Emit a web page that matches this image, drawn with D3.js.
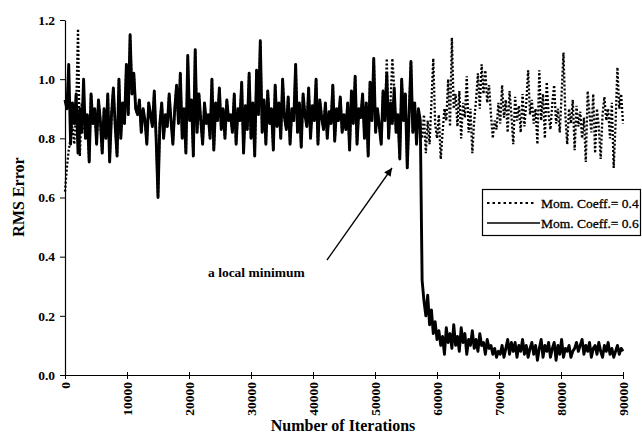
<!DOCTYPE html>
<html>
<head>
<meta charset="utf-8">
<script src="https://cdn.jsdelivr.net/npm/d3@7"></script>
<style>
html,body{margin:0;padding:0;background:#fff;}
svg{display:block;}
text{font-family:"Liberation Serif","Times New Roman",serif;fill:#000;}
</style>
</head>
<body>
<svg id="chart" width="642" height="434"></svg>
<script>
// ---- data ----
const iterStep = 300; // sampling interval of both series (iterations)
const xTickValues = [0,10000,20000,30000,40000,50000,60000,70000,80000,90000];
const yTickValues = [0.0,0.2,0.4,0.6,0.8,1.0,1.2];
const seriesNames = ["Mom. Coeff.= 0.4","Mom. Coeff.= 0.6"];
const annotationText = "a local minimum";
const xTitle = "Number of Iterations";
const yTitle = "RMS Error";

// Mom. Coeff. = 0.6 (solid)
const solidVals = [
 0.93,0.90,1.05,0.78,0.92,0.85,0.95,0.75,0.90,0.82,
 1.00,0.80,0.88,0.72,0.95,0.85,0.90,0.78,0.93,0.86,
 0.75,0.90,0.80,0.95,0.72,0.88,0.97,0.84,0.74,1.00,
 0.80,0.92,0.85,1.05,0.88,1.15,0.95,1.02,0.90,0.88,
 0.93,0.82,0.90,0.86,0.78,0.92,0.88,0.84,0.96,0.80,
 0.60,0.85,0.92,0.80,0.88,0.84,0.95,0.86,0.78,0.90,
 0.98,0.85,1.02,0.80,0.90,0.75,1.08,0.86,0.93,0.74,
 1.10,0.82,0.95,0.86,0.78,0.92,0.85,0.88,0.80,1.00,
 0.76,0.92,0.86,0.97,0.83,0.90,0.80,0.93,0.86,0.88,
 0.82,0.95,0.78,0.90,0.86,0.99,0.75,0.91,0.83,1.02,
 0.80,0.92,0.74,1.03,0.88,1.13,0.82,0.93,0.78,0.96,
 0.85,0.90,0.76,0.98,0.84,0.92,0.80,1.00,0.87,0.83,
 0.94,0.78,0.90,0.86,1.05,0.82,0.92,0.77,0.95,0.88,
 0.84,0.97,0.80,0.91,0.86,1.00,0.78,0.93,0.87,0.83,
 0.92,0.80,0.89,0.85,0.98,0.79,0.90,0.86,0.94,0.82,
 0.88,0.83,0.92,0.76,0.96,0.85,1.01,0.78,0.90,0.87,
 0.95,0.80,0.92,0.74,0.99,0.86,1.07,0.82,0.90,0.84,
 0.78,0.96,0.86,1.02,0.80,0.92,0.85,0.97,0.82,0.88,
 0.73,1.00,0.86,0.95,0.70,0.88,1.06,0.82,0.92,0.78,
 0.90,0.86,
 0.32,0.25,0.20,0.27,0.17,0.22,0.14,0.18,0.12,
 0.15,0.10,0.13,0.07,0.16,0.11,0.14,0.09,0.17,0.10,
 0.13,0.08,0.16,0.11,0.14,0.07,0.12,0.10,0.15,0.09,
 0.12,0.08,0.14,0.10,0.11,0.07,0.12,0.09,0.10,0.07,
 0.09,0.06,0.08,0.07,0.10,0.06,0.09,0.12,0.07,0.11,
 0.08,0.11,0.06,0.10,0.08,0.12,0.07,0.10,0.06,0.09,
 0.11,0.07,0.10,0.05,0.09,0.12,0.06,0.10,0.08,0.11,
 0.06,0.09,0.11,0.05,0.10,0.07,0.12,0.06,0.09,0.08,
 0.10,0.06,0.08,0.09,0.11,0.08,0.10,0.12,0.07,0.10,
 0.08,0.11,0.06,0.09,0.10,0.07,0.11,0.08,0.06,0.10,
 0.08,0.11,0.07,0.09,0.06,0.08,0.10,0.07,0.09,0.08
];

// Mom. Coeff. = 0.4 (dotted) — mostly lies under the solid curve before 57000
const dottedVals = [
 0.62,0.70,0.76,0.80,0.84,0.78,0.90,1.17,0.74,0.92,
 0.85,0.80,0.88,0.72,0.95,0.85,0.90,0.78,0.93,0.86,
 0.75,0.90,0.80,0.95,0.72,0.88,0.97,0.84,0.74,1.00,
 0.80,0.92,0.85,1.05,0.88,1.15,0.95,1.02,0.90,0.88,
 0.93,0.82,0.90,0.86,0.78,0.92,0.88,0.84,0.96,0.80,
 0.60,0.85,0.92,0.80,0.88,0.84,0.95,0.86,0.78,0.90,
 0.98,0.85,1.02,0.80,0.90,0.75,1.08,0.86,0.93,0.74,
 1.10,0.82,0.95,0.86,0.78,0.92,0.85,0.88,0.80,1.00,
 0.76,0.92,0.86,0.97,0.83,0.90,0.80,0.93,0.86,0.88,
 0.82,0.95,0.78,0.90,0.86,0.99,0.75,0.91,0.83,1.02,
 0.80,0.92,0.74,1.03,0.88,1.13,0.82,0.93,0.78,0.96,
 0.85,0.90,0.76,0.98,0.84,0.92,0.80,1.00,0.87,0.83,
 0.94,0.78,0.90,0.86,1.05,0.82,0.92,0.77,0.95,0.88,
 0.84,0.97,0.80,0.91,0.86,1.00,0.78,0.93,0.87,0.83,
 0.92,0.80,0.89,0.85,0.98,0.79,0.90,0.86,0.94,0.82,
 0.88,0.83,0.92,0.76,0.96,0.85,1.01,0.78,0.90,0.87,
 0.95,0.80,0.92,0.74,0.99,0.86,1.07,0.82,0.90,0.84,
 0.78,0.96,0.86,1.07,0.80,0.92,1.07,0.97,0.82,0.88,
 0.73,1.00,0.86,0.95,0.70,0.88,1.06,0.82,0.92,0.78,
 0.90,
 0.85,0.80,0.88,0.75,0.86,0.78,0.92,1.07,0.85,0.80,
 0.88,0.73,0.82,0.90,0.86,1.00,0.84,1.14,0.90,0.95,
 0.84,0.96,0.80,0.92,0.87,1.01,0.82,0.90,0.75,0.86,
 0.93,1.02,0.90,1.05,0.95,1.03,0.92,0.98,0.88,0.80,
 0.86,0.83,0.92,0.85,0.98,0.87,0.93,0.82,0.96,0.88,
 0.78,0.94,0.86,0.91,0.82,0.95,0.84,0.92,1.03,0.88,
 0.93,0.85,0.90,0.78,1.03,0.86,0.95,0.80,0.99,0.88,
 0.83,0.92,0.98,0.85,0.90,0.82,0.95,1.09,0.88,0.78,
 0.90,0.85,0.93,0.76,0.91,0.84,0.89,0.80,0.87,0.72,
 0.96,0.88,0.82,0.95,0.75,0.90,0.84,0.73,0.88,0.94,
 0.86,0.90,0.80,0.92,0.70,0.85,1.04,0.90,0.95,0.85
];

// ---- drawing ----
const svg = d3.select("#chart");

const x = d3.scaleLinear().domain([0,90000]).range([65,623]);
const y = d3.scaleLinear().domain([0,1.2]).range([375,20]);

const line = d3.line()
  .x((d,i)=>x(i*iterStep))
  .y(d=>y(d));

// dotted series first, solid drawn on top
svg.append("path")
  .datum(dottedVals)
  .attr("d", line)
  .attr("fill","none")
  .attr("stroke","#000")
  .attr("stroke-width",2.3)
  .attr("stroke-dasharray","2,2");

svg.append("path")
  .datum(solidVals)
  .attr("d", line)
  .attr("fill","none")
  .attr("stroke","#000")
  .attr("stroke-width",2.9)
  .attr("stroke-linejoin","round");

// axes
const xAxis = d3.axisBottom(x).tickValues(xTickValues).tickSize(4).tickSizeOuter(0).tickFormat(d3.format("d"));
const gx = svg.append("g").attr("transform","translate(0,375)").call(xAxis);
gx.select(".domain").attr("stroke","#000").attr("stroke-width",1.2);
gx.selectAll(".tick line").attr("stroke","#000").attr("y1",-3).attr("y2",4);
gx.selectAll(".tick text")
  .attr("transform","rotate(-90)")
  .attr("x",-7).attr("y",0).attr("dy","0.35em")
  .style("text-anchor","end")
  .style("font-family","'Liberation Serif',serif")
  .style("font-weight","bold")
  .style("font-size","13.5px");

const yAxis = d3.axisLeft(y).tickValues(yTickValues).tickSize(5).tickSizeOuter(0).tickFormat(d3.format(".1f"));
const gy = svg.append("g").attr("transform","translate(65,0)").call(yAxis);
gy.select(".domain").attr("stroke","#000").attr("stroke-width",1.2);
gy.selectAll(".tick line").attr("stroke","#000");
gy.selectAll(".tick text")
  .attr("x",-10)
  .style("font-family","'Liberation Serif',serif")
  .style("font-weight","bold")
  .style("font-size","13.5px");

// axis titles
svg.append("text")
  .attr("x",343).attr("y",431)
  .attr("text-anchor","middle")
  .style("font-weight","bold").style("font-size","16px")
  .text(xTitle);
svg.append("text")
  .attr("transform","translate(24,197) rotate(-90)")
  .attr("text-anchor","middle")
  .style("font-weight","bold").style("font-size","16px")
  .text(yTitle);

// annotation
svg.append("defs").append("marker")
  .attr("id","ah").attr("viewBox","0 0 10 10")
  .attr("refX",10).attr("refY",5)
  .attr("markerWidth",11).attr("markerHeight",8)
  .attr("markerUnits","userSpaceOnUse")
  .attr("orient","auto")
  .append("path").attr("d","M0,0L10,5L0,10Z").attr("fill","#000");
svg.append("line")
  .attr("x1",327).attr("y1",260)
  .attr("x2",392).attr("y2",168)
  .attr("stroke","#000").attr("stroke-width",1.3)
  .attr("marker-end","url(#ah)");
svg.append("text")
  .attr("x",208).attr("y",277)
  .style("font-weight","bold").style("font-size","13.5px")
  .text(annotationText);

// legend
const lg = svg.append("g");
lg.append("rect")
  .attr("x",482.5).attr("y",189.5).attr("width",158).attr("height",46)
  .attr("fill","#fff").attr("stroke","#000").attr("stroke-width",1.2);
const legendY = [203,223];
seriesNames.forEach((name,i)=>{
  lg.append("line")
    .attr("x1",487).attr("x2",i===0?535:540)
    .attr("y1",legendY[i]).attr("y2",legendY[i])
    .attr("stroke","#000").attr("stroke-width",i===0?2.2:1.6)
    .attr("stroke-dasharray",i===0?"2.5,3":null);
  lg.append("text")
    .attr("x",541).attr("y",legendY[i]+5)
    .style("font-size","13.5px")
    .style("stroke","#000").style("stroke-width","0.3px")
    .text(name);
});
</script>
</body>
</html>
